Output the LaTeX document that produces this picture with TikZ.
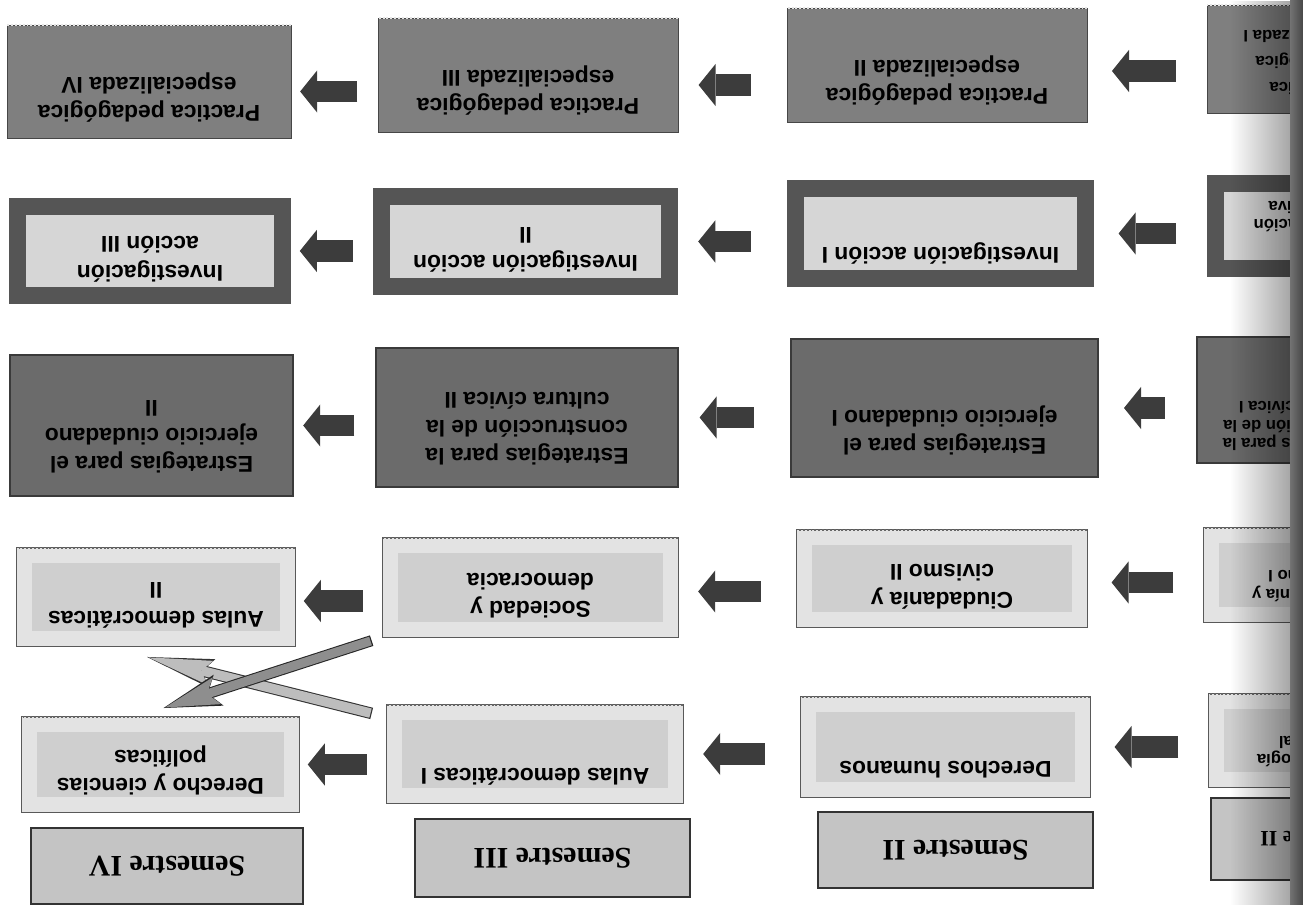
\documentclass[tikz,border=0pt]{standalone}
\usepackage{fontspec}
\setmainfont{Liberation Serif}
\setsansfont{Liberation Sans}
\usepackage{xcolor}
\usetikzlibrary{arrows.meta,calc,fadings}

\definecolor{practgray}{HTML}{7F7F7F}
\definecolor{estrgray}{HTML}{6B6B6B}
\definecolor{estrline}{HTML}{3A3A3A}
\definecolor{invframe}{HTML}{555555}
\definecolor{invpanel}{HTML}{D6D6D6}
\definecolor{paleframe}{HTML}{E3E3E3}
\definecolor{palepanel}{HTML}{CFCFCF}
\definecolor{semgray}{HTML}{C4C4C4}
\definecolor{arrowgray}{HTML}{3C3C3C}
\definecolor{crossdark}{HTML}{8E8E8E}
\definecolor{crosslight}{HTML}{BDBDBD}

\newcommand{\boxtext}[1]{\begin{tabular}[t]{@{}c@{}}#1\end{tabular}}

\tikzfading[name=bindingfade, left color=transparent!100, right color=transparent!0]

\tikzset{
%text sits upside down, as in the scanned page
course/.style={rotate=180, inner sep=0pt, text height=0pt, font=\sffamily\bfseries\fontsize{13}{16}\selectfont},
firstsem/.style={font=\sffamily\bfseries\fontsize{9.5}{10.5}\selectfont},
teeth/.style={draw=#1, line width=1.3pt, dash pattern=on 1.1pt off 1.1pt},
toothed/.style={append after command={(\tikzlastnode.south west) edge[teeth=#1] (\tikzlastnode.south east)}},
practica/.style 2 args={course, fill=practgray, draw=practgray!55!black, line width=0.4pt, minimum width=#1*0.2mm, minimum height=#2*0.2mm, text depth=27pt, toothed=white!80!practgray},
investig/.style 2 args={course, fill=invpanel, draw=invframe, line width=3.4mm, minimum width=(#1-17)*0.2mm, minimum height=(#2-17)*0.2mm, text depth=16pt},
estrateg/.style 2 args={course, fill=estrgray, draw=estrline, line width=1.6pt, minimum width=#1*0.2mm, minimum height=#2*0.2mm, text depth=35pt},
pale/.style 2 args={course, fill=palepanel, draw=paleframe, line width=8.5pt, preaction={draw=black!65, line width=9.7pt}, minimum width=(#1-15)*0.2mm, minimum height=(#2-15)*0.2mm, text depth=16pt, toothed=black!60},
semestre/.style 2 args={rotate=180, inner sep=0pt, fill=semgray, draw=black!80, line width=0.8pt, font=\bfseries\fontsize{17}{20}\selectfont, minimum width=#1*0.2mm, minimum height=#2*0.2mm},
blockarrow/.style={draw=arrowgray, line width=12.5pt, -{Triangle[length=9.7pt, width=24pt, line width=0pt]}},
arrowA/.style={blockarrow, shorten >=5pt, shorten <=11.5pt},
arrowB/.style={blockarrow, shorten >=11.5pt, shorten <=20.5pt},
arrowC/.style={blockarrow, shorten >=14pt, shorten <=17.5pt},
palecross/.style={draw=crosslight, line width=5.4pt, shorten <=9.7pt, shorten >=1pt, -{Stealth[length=36pt, width=14pt, inset=5pt, line width=0pt]}, preaction={draw=black!80, line width=6.6pt, shorten <=9pt, shorten >=0pt, -{Stealth[length=38pt, width=16.5pt, inset=5.5pt, line width=0pt]}}},
darkcross/.style={draw=crossdark, line width=5.1pt, shorten <=7.5pt, shorten >=1pt, -{Stealth[length=31pt, width=16pt, inset=6pt, line width=0pt]}, preaction={draw=black!85, line width=6.3pt, shorten <=6.8pt, shorten >=0pt, -{Stealth[length=33pt, width=18.5pt, inset=6.5pt, line width=0pt]}}}
}

\begin{document}
\begin{tikzpicture}[x=0.2mm, y=-0.2mm]
 \useasboundingbox (0,0) rectangle (1303,905);

 \begin{scope}
 \clip (0,0) rectangle (1290,905);

 %Semestre IV
 \node[practica={284}{113}] (s4p) at (149,81.5) {\boxtext{Practica pedagógica\\especializada IV}};
 \node[investig={282}{106}] (s4i) at (150,251) {\boxtext{Investigación\\acción III}};
 \node[estrateg={283}{141}] (s4e) at (151.5,425.5) {\boxtext{Estrategias para el\\ejercicio ciudadano\\II}};
 \node[pale={278}{98}] (s4a) at (156,597) {\boxtext{Aulas democráticas\\II}};
 \node[pale={277}{95}] (s4d) at (160.5,764.5) {\boxtext{Derecho y ciencias\\políticas}};
 \node[semestre={272}{76}] (s4s) at (167,866) {Semestre IV};

 %Semestre III
 \node[practica={300}{114}] (s3p) at (528,75) {\boxtext{Practica pedagógica\\especializada III}};
 \node[investig={305}{107}] (s3i) at (525.5,241.5) {\boxtext{Investigación acción\\II}};
 \node[estrateg={302}{139}] (s3e) at (527,417.5) {\boxtext{Estrategias para la\\construcción de la\\cultura cívica II}};
 \node[pale={295}{99}] (s3a) at (530.5,587.5) {\boxtext{Sociedad y\\democracia}};
 \node[pale={296}{98}] (s3b) at (535,754) {\boxtext{Aulas democráticas I\\[6pt]\mbox{}}};
 \node[semestre={275}{78}] (s3s) at (552.5,858) {Semestre III};

 %Semestre II
 \node[practica={300}{114}] (s2p) at (937,65) {\boxtext{Practica pedagógica\\especializada II}};
 \node[investig={307}{107}] (s2i) at (940.5,233.5) {\boxtext{Investigación acción I}};
 \node[estrateg={307}{138}] (s2e) at (944.5,408) {\boxtext{Estrategias para el\\ejercicio ciudadano I}};
 \node[pale={290}{97}] (s2c) at (942,578.5) {\boxtext{Ciudadanía y\\civismo II}};
 \node[pale={289}{100}] (s2d) at (945.5,747) {\boxtext{Derechos humanos}};
 \node[semestre={275}{76}] (s2s) at (955.5,850) {Semestre II};

 %first column, cut off by the page edge
 \node[practica={190}{108}, firstsem, font=\sffamily\bfseries\fontsize{9.5}{14.8}\selectfont] (s1p) at (1302,59) {\boxtext{Practica\\pedagógica\\especializada I}};
 \node[investig={200}{102}, firstsem, text height=7pt, text depth=0pt] (s1i) at (1307,226) {\boxtext{Investigación\\educativa}};
 \node[estrateg={200}{126}, firstsem, text depth=44pt] (s1e) at (1297,400) {\boxtext{Estrategias para la\\construcción de la\\cultura cívica I}};
 \node[pale={200}{94}, firstsem] (s1c) at (1304,575) {\boxtext{Ciudadanía y\\civismo I}};
 \node[pale={200}{93}, firstsem] (s1d) at (1309,740.5) {\boxtext{Antropología\\cultural}};
 \node[semestre={206}{82}, font=\bfseries\fontsize{12.5}{15}\selectfont] (s1s) at (1314,839) {Semestre II};

 %Arrows III -> IV
 \draw[arrowA] ($(s3p.east |- s4p.west)+(0,10)$) -- ($(s4p.west)+(0,10)$);
 \draw[arrowA] (s3i.east |- s4i.west) -- (s4i.west);
 \draw[arrowA] (s3e.east |- s4e.west) -- (s4e.west);
 \draw[arrowA] ($(s3a.east |- s4a.west)+(0,4)$) -- ($(s4a.west)+(0,4)$);
 \draw[arrowA] (s3b.east |- s4d.west) -- (s4d.west);

 %Arrows II -> III
 \draw[arrowB] ($(s2p.east |- s3p.west)+(0,10)$) -- ($(s3p.west)+(0,10)$);
 \draw[arrowB] (s2i.east |- s3i.west) -- (s3i.west);
 \draw[arrowB] (s2e.east |- s3e.west) -- (s3e.west);
 \draw[arrowB] ($(s2c.east |- s3a.west)+(0,4)$) -- ($(s3a.west)+(0,4)$);
 \draw[arrowB] (s2d.east |- s3b.west) -- (s3b.west);

 %Arrows from the first column
 \draw[arrowC] ($(s1p.east |- s2p.west)+(0,6)$) -- ($(s2p.west)+(0,6)$);
 \draw[arrowC] (s1i.east |- s2i.west) -- (s2i.west);
 \draw[arrowC] (s1e.east |- s2e.west) -- (s2e.west);
 \draw[arrowC] ($(s1c.east |- s2c.west)+(0,4)$) -- ($(s2c.west)+(0,4)$);
 \draw[arrowC] (s1d.east |- s2d.west) -- (s2d.west);

 %Crossed arrows
 \draw[palecross] ($(s3b.south east)!.25!(s3b.east)$) -- ([shift={(-9,11)}]s4a.north);
 \draw[darkcross] (s3a.north east) -- ([shift={(3,-9)}]s4d.south);

 %shadow of the binding
 \fill[black, fill opacity=0.35, path fading=bindingfade] (1230,0) rectangle (1290,905);
 \end{scope}
 \shade[left color=black!55, right color=black!72] (1290,0) rectangle (1303,905);
\end{tikzpicture}
\end{document}
